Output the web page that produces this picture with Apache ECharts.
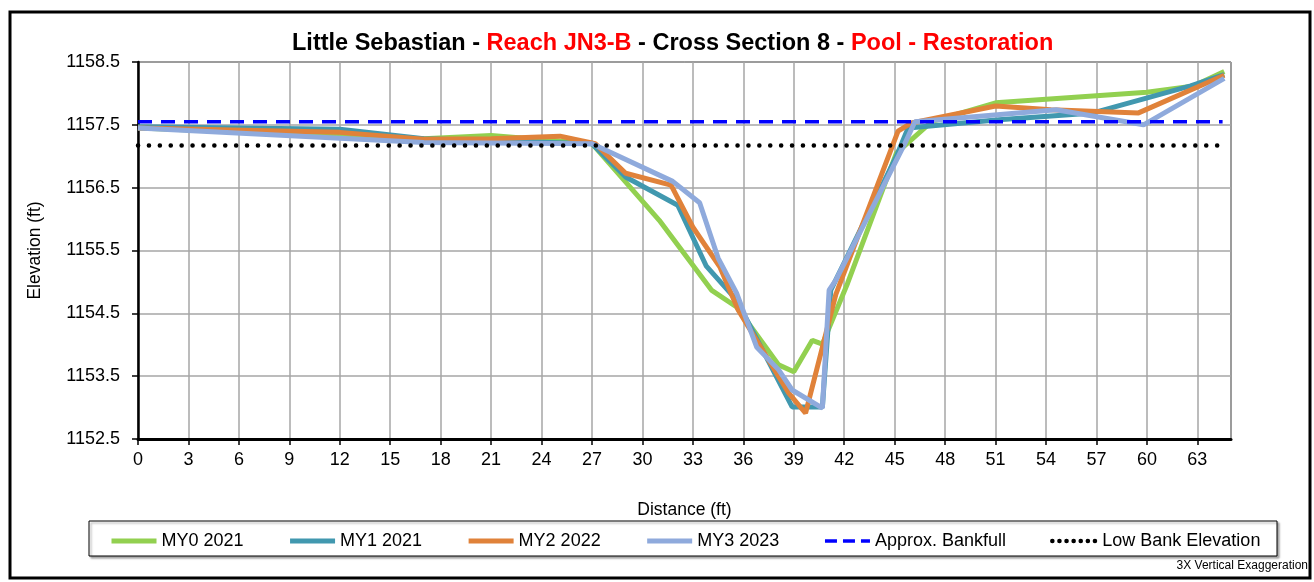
<!DOCTYPE html>
<html>
<head>
    <meta charset="utf-8">
    <title>Cross Section 8</title>
    <script src="https://cdn.jsdelivr.net/npm/echarts@6/dist/echarts.min.js"></script>
    <style>
        body { margin: 0; background: #fff; }
    </style>
</head>
<body>
    <div id="main" style="width:1314px; height:582px"></div>
    <script type="text/javascript">
        // station / elevation pairs
        var my0_2021 = [[0, 1157.45], [17, 1157.28], [21, 1157.33], [27, 1157.2], [31, 1155.98], [34.1, 1154.87],
            [35.6, 1154.6], [38.1, 1153.68], [39, 1153.57], [40.1, 1154.07], [40.7, 1154.01], [42.2, 1154.98],
            [45.1, 1157.05], [47.2, 1157.55], [51, 1157.85], [60, 1158.02], [62.8, 1158.12], [64.6, 1158.35]];
        var my1_2021 = [[0, 1157.47], [12, 1157.43], [17, 1157.28], [27, 1157.2], [29, 1156.67], [32.1, 1156.22],
            [33.8, 1155.25], [35.6, 1154.71], [38.9, 1153.01], [40.7, 1153.01], [41.2, 1154.87], [45.1, 1157.0],
            [45.8, 1157.45], [51.2, 1157.58], [56.8, 1157.69], [62.6, 1158.12], [64.6, 1158.3]];
        var my2_2022 = [[0, 1157.45], [12, 1157.38], [17, 1157.27], [21, 1157.28], [25.1, 1157.32], [27.2, 1157.2],
            [29, 1156.73], [31.7, 1156.54], [33, 1155.87], [34.6, 1155.24], [35.7, 1154.55], [38.7, 1153.23],
            [39.7, 1152.91], [40.7, 1153.96], [41.5, 1154.8], [45.2, 1157.4], [46, 1157.53], [51, 1157.8],
            [54.3, 1157.74], [59.5, 1157.69], [64.6, 1158.29]];
        var my3_2023 = [[0, 1157.45], [17, 1157.22], [27, 1157.2], [31.8, 1156.6], [33.4, 1156.26], [34.5, 1155.38],
            [35.6, 1154.82], [36.8, 1153.96], [38.1, 1153.6], [38.9, 1153.28], [40.7, 1152.99], [41.1, 1154.87],
            [41.5, 1155.03], [45.6, 1157.2], [46.2, 1157.55], [54.6, 1157.74], [59.8, 1157.5], [64.6, 1158.24]];
        var bankfull = [[0, 1157.55], [64.5, 1157.55]];
        var lowBank = [[0, 1157.17], [64.5, 1157.17]];

        var seriesNames = ['MY0 2021', 'MY1 2021', 'MY2 2022', 'MY3 2023', 'Approx. Bankfull', 'Low Bank Elevation'];
        var seriesColors = ['#92D050', '#4198AF', '#E0823A', '#8FAADC', '#0000FF', '#000000'];

        var myChart = echarts.init(document.getElementById('main'));

        function surveyLine(i, data) {
            return {
                name: seriesNames[i],
                type: 'line',
                data: data,
                symbol: 'none',
                color: seriesColors[i],
                lineStyle: { width: 5, color: seriesColors[i] },
                animation: false
            };
        }

        var legendData = seriesNames.map(function (n, i) {
            var ls = { width: 5, color: seriesColors[i], type: 'solid' };
            if (i === 4) ls = { width: 3.5, color: seriesColors[i], type: [12, 6] };
            if (i === 5) ls = { width: 4.5, color: seriesColors[i], type: [0.1, 7], cap: 'round' };
            return { name: n, itemStyle: { opacity: 0 }, lineStyle: ls };
        });

option = {
    textStyle: { fontFamily: 'Liberation Sans, Arial, sans-serif' },
    title: {
        text: '{b|Little Sebastian - }{r|Reach JN3-B}{b| - Cross Section 8 - }{r|Pool - Restoration}',
        left: 287,
        top: 27,
        textStyle: {
            rich: {
                b: { fontSize: 23.5, fontWeight: 'bold', color: '#000', fontFamily: 'Liberation Sans' },
                r: { fontSize: 23.5, fontWeight: 'bold', color: '#FF0000', fontFamily: 'Liberation Sans' }
            }
        }
    },
    grid: {
        left: 138,
        right: 83,
        top: 62,
        bottom: 143,
        show: true,
        borderColor: '#000',
        borderWidth: 1
    },
    legend: {
        data: legendData,
        top: 527,
        left: 104,
        itemWidth: 45,
        itemHeight: 12,
        itemGap: 44,
        itemStyle: { opacity: 0 },
        textStyle: { fontSize: 18, color: '#000', fontFamily: 'Liberation Sans' }
    },
    xAxis: {
        type: 'value',
        name: 'Distance (ft)',
        nameLocation: 'middle',
        nameGap: 62,
        nameTextStyle: { fontSize: 17.5, color: '#000' },
        min: 0,
        max: 65,
        interval: 3,
        axisLine: { show: true, lineStyle: { color: '#000', width: 3 } },
        axisTick: { show: true, length: 6, lineStyle: { color: '#000', width: 1.5 } },
        axisLabel: { fontSize: 18, color: '#000', margin: 12, showMaxLabel: false },
        splitLine: { show: true, lineStyle: { color: '#A6A6A6', width: 1.5 } }
    },
    yAxis: {
        type: 'value',
        name: 'Elevation (ft)',
        nameLocation: 'middle',
        nameGap: 94,
        nameTextStyle: { fontSize: 17.5, color: '#000' },
        min: 1152.5,
        max: 1158.5,
        interval: 1,
        axisLine: { show: true, lineStyle: { color: '#000', width: 2.5 } },
        axisTick: { show: true, length: 6, lineStyle: { color: '#000', width: 1.5 } },
        axisLabel: {
            fontSize: 18, color: '#000', margin: 18,
            formatter: function (v) { return v.toFixed(1); }
        },
        splitLine: { show: true, lineStyle: { color: '#A6A6A6', width: 1.5 } }
    },
    graphic: [
        {
            type: 'rect',
            shape: { x: 10, y: 12, width: 1300, height: 566 },
            style: { fill: 'none', stroke: '#000', lineWidth: 3 },
            silent: true
        },
        {
            type: 'rect',
            shape: { x: 89, y: 521, width: 1188, height: 35 },
            style: { fill: '#fff', stroke: '#000', lineWidth: 1, shadowColor: 'rgba(0,0,0,0.35)', shadowOffsetX: 2, shadowOffsetY: 2, shadowBlur: 2 },
            z: -1,
            silent: true
        },
        {
            type: 'text',
            right: 6,
            top: 560,
            style: { text: '3X Vertical Exaggeration', fontSize: 12, fill: '#000', fontFamily: 'Liberation Sans' },
            silent: true
        }
    ],
    series: [
        surveyLine(0, my0_2021),
        surveyLine(1, my1_2021),
        surveyLine(2, my2_2022),
        surveyLine(3, my3_2023),
        {
            name: seriesNames[4],
            type: 'line',
            data: bankfull,
            symbol: 'none',
            color: seriesColors[4],
            lineStyle: { width: 3.5, type: [14, 9], color: seriesColors[4] },
            z: 3,
            animation: false
        },
        {
            name: seriesNames[5],
            type: 'line',
            data: lowBank,
            symbol: 'none',
            color: seriesColors[5],
            lineStyle: { width: 4.5, type: [0.1, 10.8], cap: 'round', color: seriesColors[5] },
            z: 3,
            animation: false
        }
    ]
};

        myChart.setOption(option);
    </script>
</body>
</html>
